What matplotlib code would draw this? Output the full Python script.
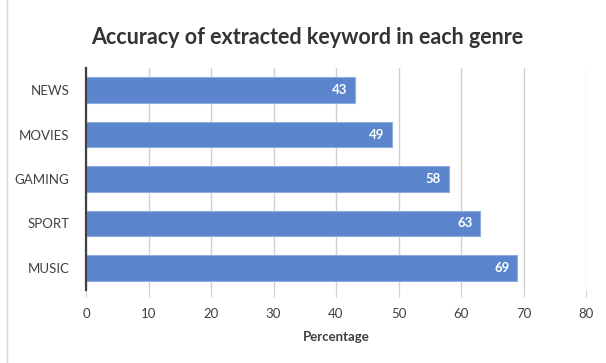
import matplotlib.pyplot as plt
from matplotlib.lines import Line2D

genres = ["NEWS", "MOVIES", "GAMING", "SPORT", "MUSIC"]
accuracy = [43, 49, 58, 63, 69]
xticks = [0, 10, 20, 30, 40, 50, 60, 70, 80]

plt.rcParams['font.family'] = ['Lato', 'DejaVu Sans']

fig = plt.figure(figsize=(6.06, 3.63), dpi=100)
ax = fig.add_axes([86 / 606, 1 - 290 / 363, 500 / 606, 222 / 363])

pos = list(range(len(genres)))
bars = ax.barh(pos, accuracy, height=0.58, color="#5B85CC",
               edgecolor="#8FAEE0", linewidth=0.8, zorder=3)
for y, v in zip(pos, accuracy):
    ax.text(v - 1.2, y, str(v), ha="right", va="center", color="white",
            fontsize=9.5, fontweight="bold", zorder=4)

ax.set_xlim(0, 80)
ax.set_ylim(4.5, -0.5)
ax.set_yticks(pos)
ax.set_yticklabels(genres, fontsize=9.5, color="#404040")
ax.set_xticks(xticks)
ax.set_xticklabels([str(t) for t in xticks], fontsize=9.5, color="#404040")
ax.tick_params(axis="y", length=0, pad=12)
ax.tick_params(axis="x", length=5, color="#d0d0d0", pad=8)
ax.grid(axis="x", color="#d0d0d0", linewidth=1, zorder=0)
for s in ["top", "right", "bottom"]:
    ax.spines[s].set_visible(False)
ax.spines["left"].set_color("#404040")
ax.spines["left"].set_linewidth(1.6)
ax.spines["left"].set_zorder(5)

ax.set_xlabel("Percentage", fontsize=9.5, fontweight="bold", color="#404040", labelpad=8)
fig.text(307 / 606, 1 - 38 / 363, "Accuracy of extracted keyword in each genre",
         ha="center", va="center", fontsize=15.5, fontweight="bold", color="#333333")

fig.add_artist(Line2D([7 / 606, 7 / 606], [0, 1], color="#d9d9d9", linewidth=1,
                      transform=fig.transFigure))

fig.savefig("out.png", dpi=100)
